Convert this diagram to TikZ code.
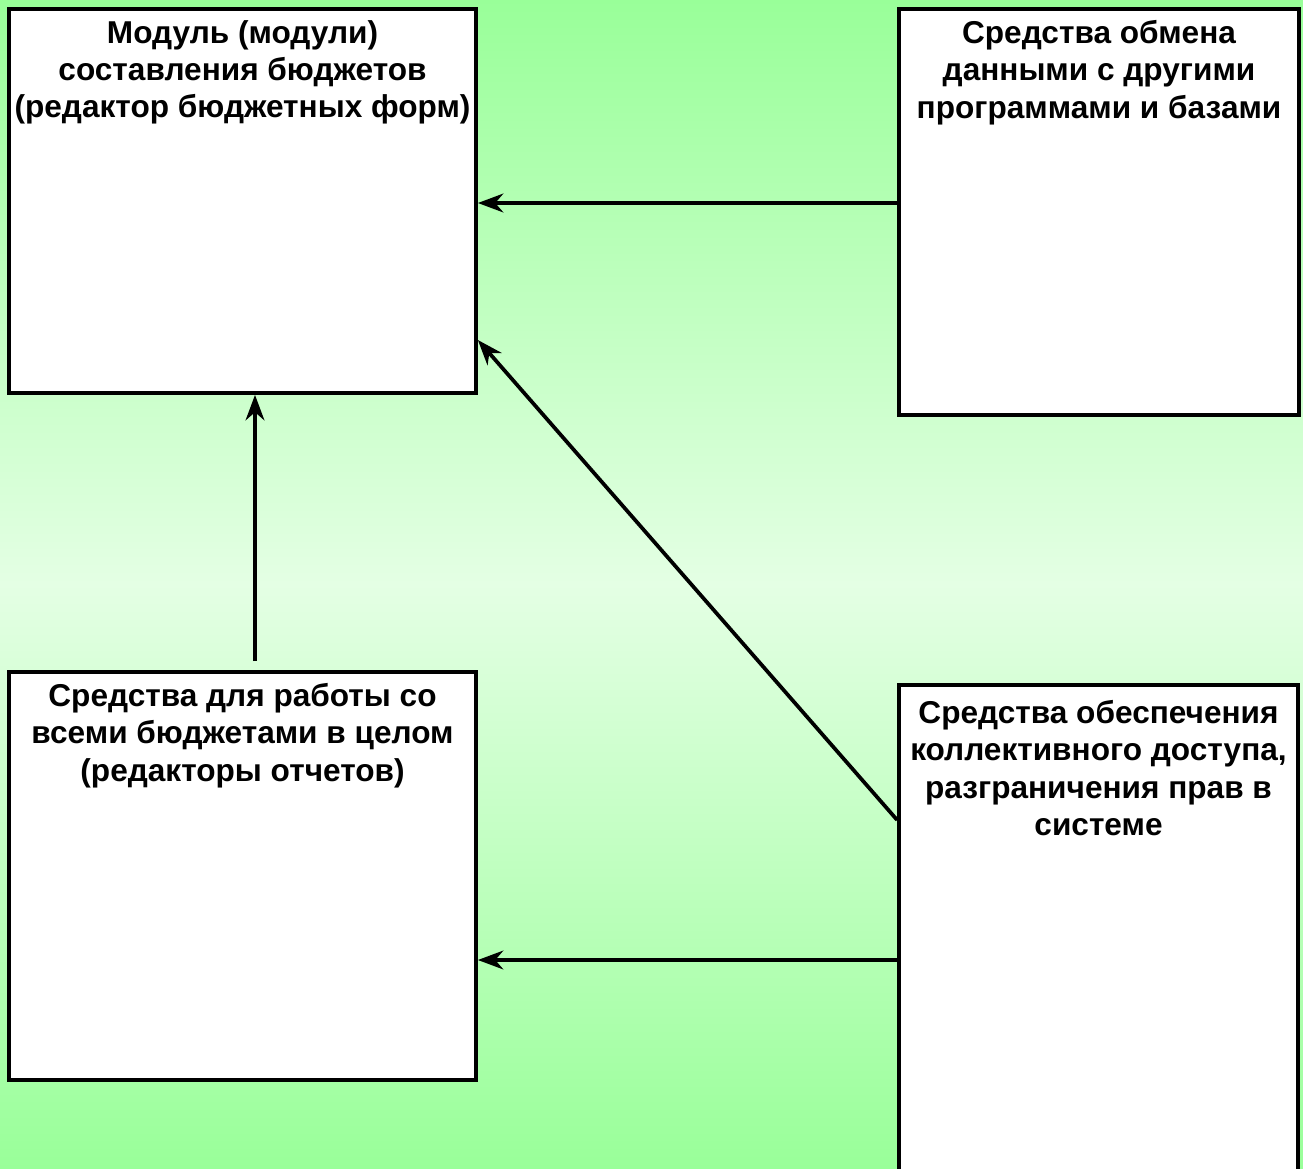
\documentclass[tikz,border=0pt]{standalone}
\usepackage{fontspec}
\setmainfont{Liberation Sans}
\usetikzlibrary{calc, positioning}
\usetikzlibrary{arrows.meta}

\definecolor{bggreen}{HTML}{99FF99}
\definecolor{bglight}{HTML}{E4FFE4}

\tikzset{
  blockbox/.style={draw=black, line width=2.8pt, fill=white, rectangle, inner sep=0pt},
  blocktext/.style={anchor=north, align=center, inner sep=0pt,
    font=\fontsize{23.7}{28}\selectfont\bfseries},
  link/.style={-{Stealth[length=19pt, width=14pt, inset=6pt]}, line width=2.8pt},
}

\begin{document}
\begin{tikzpicture}[x=0.75pt, y=-0.75pt]
\def\px{0.75pt}

\useasboundingbox (0,0) rectangle (1303,1168);
\shade[top color=bggreen, bottom color=bggreen, middle color=bglight] (0,0) rectangle (1303,1168);

% blocks
\node[blockbox, minimum width=467*\px, minimum height=384*\px] (budget) at (242.5,201) {};
\node[blockbox, minimum width=400*\px, minimum height=406*\px] (exchange) at (1099,212) {};
\node[blockbox, minimum width=467*\px, minimum height=408*\px] (reports) at (242.5,876) {};
\node[blockbox, minimum width=399*\px, minimum height=515*\px] (access) at (1098.5,942.5) {};

\node[blocktext] (budget text) at ($(budget.north)+(0,13)$)
  {Модуль (модули)\\составления бюджетов\\(редактор бюджетных форм)};
\node[blocktext] (exchange text) at ($(exchange.north)+(0,13)$)
  {Средства обмена\\данными с другими\\программами и базами};
\node[blocktext] (reports text) at ($(reports.north)+(0,13)$)
  {Средства для работы со\\всеми бюджетами в целом\\(редакторы отчетов)};
\node[blocktext] (access text) at ($(access.north)+(0,17)$)
  {Средства обеспечения\\коллективного доступа,\\разграничения прав в\\системе};

% links
\draw[link] (exchange.west |- 0,203) -- (budget.east |- 0,203);
\draw[link] ($(reports.north -| 255,0)+(0,-9)$) -- (budget.south -| 255,0);
\draw[link] (access.west |- 0,820) -- (budget.east |- 0,340);
\draw[link] (access.west |- 0,960) -- (reports.east |- 0,960);
\end{tikzpicture}
\end{document}
